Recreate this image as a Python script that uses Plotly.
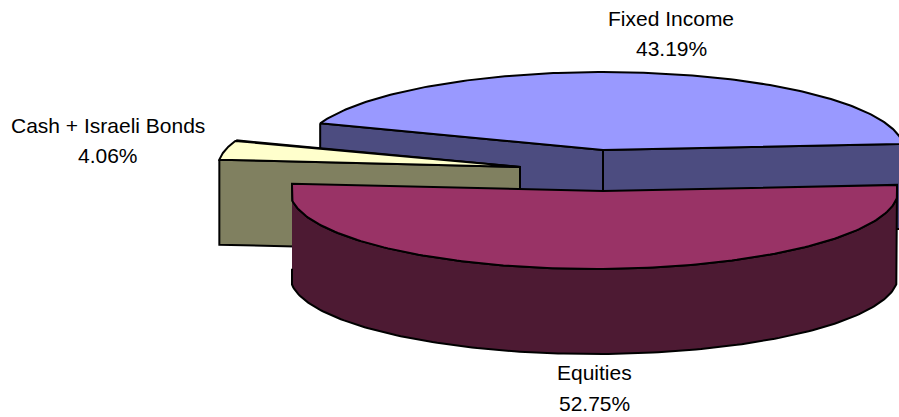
import numpy as np
import plotly.graph_objects as go

# Data
categories = ["Fixed Income", "Cash + Israeli Bonds", "Equities"]
shares = [43.19, 4.06, 52.75]

# Styling and projected-pie geometry (pixel space)
top_colors = ["#9999FF", "#FFFFCC", "#993366"]
side_colors = ["#4C4C80", "#808060", "#4D1A33"]
start_angle = 4.5
centers = [(603, 150), (520, 167), (594, 191)]
apexes = [(603, 150), (520, 167), (603, 191)]
radii = [(301, 78), (302, 78), (304, 78)]
x_limits = [(0, 1000), (0, 1000), (292, 897)]
depth = 85
label_lines = [(671, 18, 48), (108, 125, 155), (594, 372, 403)]
W, H = 899, 417


def arc(center, radius, a0, a1, limits):
    t = np.radians(np.linspace(a0, a1, 181))
    x = center[0] + radius[0] * np.cos(t)
    y = center[1] - radius[1] * np.sin(t)
    return np.clip(x, *limits), y


fig = go.Figure()


def poly(x, y, color):
    fig.add_trace(go.Scatter(
        x=list(x), y=list(y), mode="lines", fill="toself", fillcolor=color,
        line=dict(color="black", width=2), hoverinfo="skip", showlegend=False,
    ))


edges = np.concatenate([[0], np.cumsum(shares)]) * 3.6 + start_angle
for i in range(len(categories)):
    a0, a1 = edges[i], edges[i + 1]
    ax, ay = apexes[i]
    x, y = arc(centers[i], radii[i], a0, a1, x_limits[i])
    # walls
    if i == 2:
        poly(np.concatenate([x, x[::-1]]), np.concatenate([y, y[::-1] + depth]), side_colors[i])
    else:
        for k in (0, -1):
            poly([x[k], ax, ax, x[k], x[k]],
                 [y[k], ay, ay + depth, y[k] + depth, y[k]], side_colors[i])
    # top face
    poly(np.concatenate([[ax], x, [ax]]), np.concatenate([[ay], y, [ay]]), top_colors[i])

annotations = []
for name, share, (lx, y1, y2) in zip(categories, shares, label_lines):
    for text, ly in ((name, y1), (f"{share:.2f}%", y2)):
        annotations.append(dict(x=lx, y=ly, text=text, showarrow=False, xref="x", yref="y",
                                xanchor="center", yanchor="middle",
                                font=dict(family="Liberation Sans", size=21, color="black")))

fig.update_layout(
    width=W, height=H, margin=dict(l=0, r=0, t=0, b=0),
    paper_bgcolor="white", plot_bgcolor="white", annotations=annotations,
    xaxis=dict(range=[0, W], visible=False, fixedrange=True),
    yaxis=dict(range=[H, 0], visible=False, fixedrange=True),
)
fig.write_html("out.html", post_script="document.body.style.margin='0';document.body.style.overflow='hidden';",
               config={"displayModeBar": False})
